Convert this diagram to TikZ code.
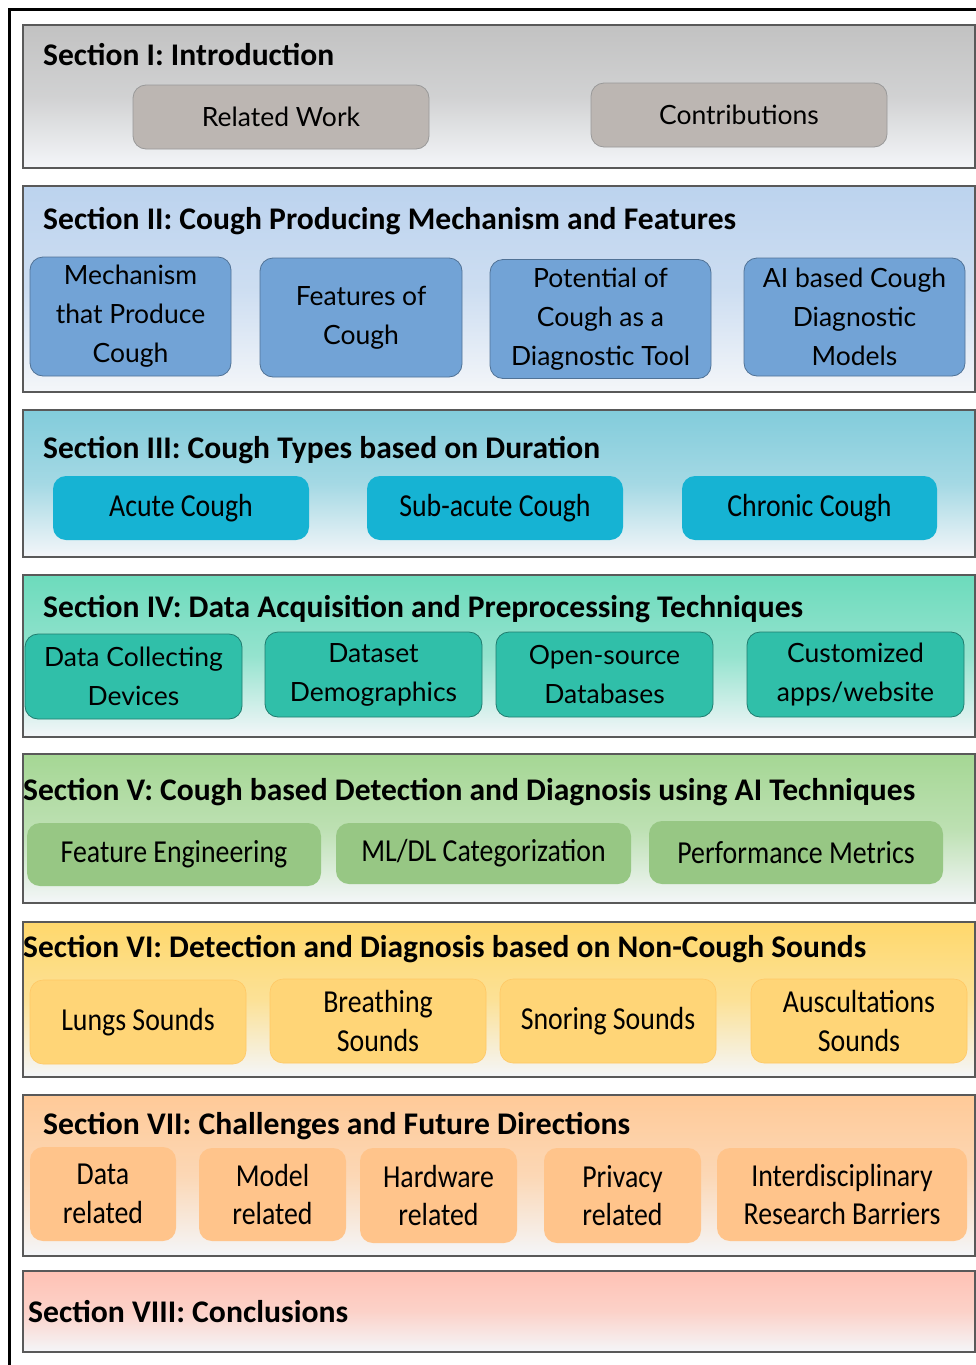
\documentclass[tikz,border=0pt]{standalone}
\usepackage{graphicx}
\usepackage{fontspec}
\setmainfont{Carlito}
\newfontfamily\roundfont{Lato}
\newfontfamily\narrowfont[FakeStretch=0.87]{Carlito}

% scale a text horizontally so that it is exactly #1 wide
\newsavebox\fitbox
\newcommand\hfit[2]{\sbox\fitbox{#2}\scalebox{\fpeval{(#1)/(\the\wd\fitbox)}}[1]{\usebox\fitbox}}

\definecolor{gI}{HTML}{C2C2C2}
\definecolor{gII}{HTML}{BCD3EE}
\definecolor{gIII}{HTML}{82CCDB}
\definecolor{gIV}{HTML}{6CDBBC}
\definecolor{gV}{HTML}{A5D794}
\definecolor{gVI}{HTML}{FFD86C}
\definecolor{gVII}{HTML}{FFCA98}
\definecolor{gVIII}{HTML}{FFC2B4}
\definecolor{pale}{HTML}{F4F6F9}

\definecolor{fI}{HTML}{BCB6B2}
\definecolor{fII}{HTML}{72A3D6}
\definecolor{fIII}{HTML}{16B3D3}
\definecolor{fIV}{HTML}{30BFA9}
\definecolor{fV}{HTML}{97C784}
\definecolor{fVI}{HTML}{FFD577}
\definecolor{fVII}{HTML}{FFC48B}

\tikzset{
  sect/.style={draw=black!65, line width=1.1pt, bottom color=pale, top color=#1,
               middle color=#1!70!pale},
  title/.style={anchor=base west, inner sep=0pt,
                font=\fontsize{31.5}{37}\selectfont\bfseries},
  sub/.style={rounded corners=13pt, align=center, inner sep=0pt},
  subround/.style={sub, font=\roundfont\fontsize{26.5}{39}\selectfont},
  subcal/.style={sub, font=\narrowfont\fontsize{32}{38.5}\selectfont},
  bI/.style={subround, fill=fI, draw=black!40, line width=0.8pt},
  bII/.style={subround, fill=fII, draw=fII!70!black, line width=0.8pt},
  bIII/.style={subcal, fill=fIII},
  bIV/.style={subround, fill=fIV, draw=fIV!65!black, line width=0.8pt},
  bV/.style={subcal, fill=fV},
  bVI/.style={subcal, fill=fVI, draw=fVI!85!orange, line width=0.6pt},
  bVII/.style={subcal, fill=fVII},
}

\begin{document}
\begin{tikzpicture}[x=1pt, y=-1pt]
\useasboundingbox (0,0) rectangle (976,1365);
\fill[white] (0,0) rectangle (976,1365);

% frame round the whole outline
\draw[line width=2.6pt] (976,9.5) -- (9.5,9.5) -- (9.5,1366);

% ---- Section I
\path[sect=gI] (23,25) rectangle (975,168);
\node[title] (tI) at (43,65) {\hfit{291pt}{Section I: Introduction}};
\node[bI, minimum width=296, minimum height=64] (rw) at (281,117) {Related Work};
\node[bI, minimum width=296, minimum height=64] (contr) at (739,115) {Contributions};

% ---- Section II
\path[sect=gII] (23,186) rectangle (975,392);
\node[title] (tII) at (43,229) {\hfit{693pt}{Section II: Cough Producing Mechanism and Features}};
\node[bII, minimum width=201, minimum height=119] (mech) at (130.5,316.5) {Mechanism\\that Produce\\Cough};
\node[bII, minimum width=202, minimum height=119] (feat) at (361,317.5) {Features of\\Cough};
\node[bII, minimum width=221, minimum height=119] (pot) at (600.5,319) {Potential of\\Cough as a\\Diagnostic Tool};
\node[bII, minimum width=221, minimum height=118] (aimod) at (854.5,317) {AI based Cough\\Diagnostic\\Models};

% ---- Section III
\path[sect=gIII] (23,410) rectangle (975,557);
\node[title] (tIII) at (43,458) {\hfit{557pt}{Section III: Cough Types based on Duration}};
\node[bIII, minimum width=256, minimum height=64] (acute) at (181,508) {Acute Cough};
\node[bIII, minimum width=256, minimum height=64] (subac) at (495,508) {Sub-acute Cough};
\node[bIII, minimum width=255, minimum height=64] (chron) at (809.5,508) {Chronic Cough};

% ---- Section IV
\path[sect=gIV] (23,575) rectangle (975,737);
\node[title] (tIV) at (43,617) {\hfit{760pt}{Section IV: Data Acquisition and Preprocessing Techniques}};
\node[bIV, minimum width=217, minimum height=85] (devs) at (133.5,676.5) {Data Collecting\\Devices};
\node[bIV, minimum width=217, minimum height=85] (demo) at (373.5,674.5) {Dataset\\Demographics};
\node[bIV, minimum width=217, minimum height=85] (opendb) at (604.5,674.5) {Open-source\\Databases};
\node[bIV, minimum width=217, minimum height=85] (apps) at (855.5,674.5) {Customized\\apps/website};

% ---- Section V
\path[sect=gV] (23,754) rectangle (975,903);
\node[title] (tV) at (23,800) {\hfit{892pt}{Section V: Cough based Detection and Diagnosis using AI Techniques}};
\node[bV, minimum width=294, minimum height=63] (feng) at (174,854.5) {Feature Engineering};
\node[bV, minimum width=295, minimum height=61] (mldl) at (483.5,853.5) {ML/DL Categorization};
\node[bV, minimum width=294, minimum height=63] (perf) at (796,852.5) {Performance Metrics};

% ---- Section VI
\path[sect=gVI] (23,922) rectangle (975,1077);
\node[title] (tVI) at (23,957) {\hfit{843pt}{Section VI: Detection and Diagnosis based on Non-Cough Sounds}};
\node[bVI, minimum width=216, minimum height=84] (lungs) at (138,1022) {Lungs Sounds};
\node[bVI, minimum width=216, minimum height=84] (breath) at (378,1021) {Breathing\\Sounds};
\node[bVI, minimum width=216, minimum height=84] (snore) at (608,1021) {Snoring Sounds};
\node[bVI, minimum width=216, minimum height=84] (ausc) at (859,1021) {Auscultations\\Sounds};

% ---- Section VII
\path[sect=gVII] (23,1095) rectangle (975,1256);
\node[title] (tVII) at (43,1134) {\hfit{587pt}{Section VII: Challenges and Future Directions}};
\node[bVII, minimum width=146, minimum height=94] (datarel) at (103,1194) {Data\\related};
\node[bVII, minimum width=147, minimum height=93] (modrel) at (272.5,1194.5) {Model\\related};
\node[bVII, minimum width=157, minimum height=95] (hwrel) at (438.5,1195.5) {Hardware\\related};
\node[bVII, minimum width=157, minimum height=95] (privrel) at (622.5,1195.5) {Privacy\\related};
\node[bVII, minimum width=250, minimum height=93] (interd) at (842,1194.5) {Interdisciplinary\\Research Barriers};

% ---- Section VIII
\path[sect=gVIII] (23,1271) rectangle (975,1352);
\node[title] (tVIII) at (28,1322) {\hfit{320pt}{Section VIII: Conclusions}};
\end{tikzpicture}
\end{document}
